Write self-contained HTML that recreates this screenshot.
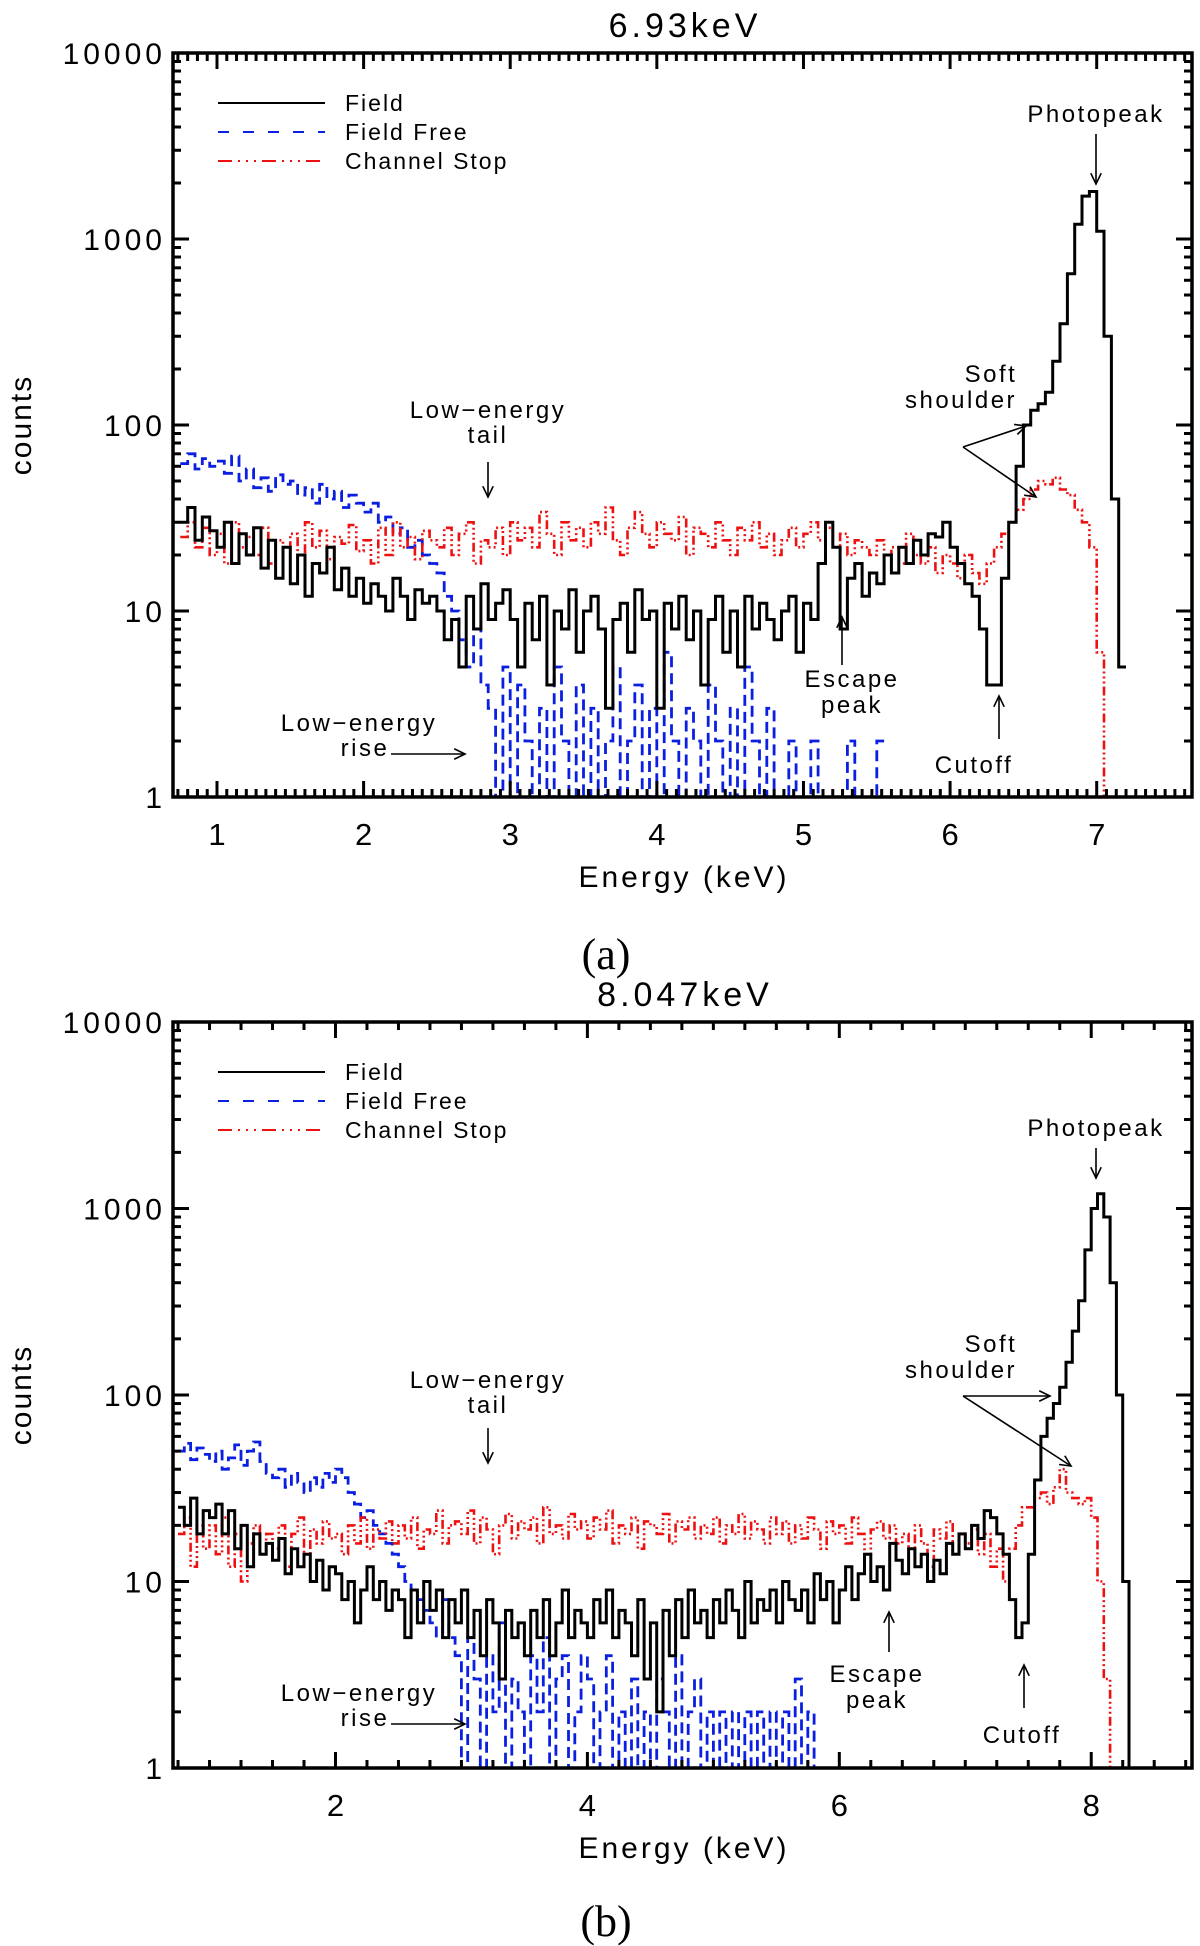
<!DOCTYPE html>
<html><head><meta charset="utf-8"><style>
html,body{margin:0;padding:0;background:#fff;}
svg{display:block;font-family:"Liberation Sans",sans-serif;}
</style></head><body>
<svg id="fig" width="1200" height="1946" viewBox="0 0 1200 1946" xmlns="http://www.w3.org/2000/svg"></svg>
<script>
// ---- Panel (a) data, 6.93 keV ----  bins start at 0.75 keV, width 0.05 keV
const binStartA = 0.75;
const binWidth = 0.05;
const fieldA = [30,36,24,32,27,
22,30,18,26,20,28,17,24,15,22,
14,20,12,18,16,22,13,17,12,15,
11,14,12,10,15,12,9,13,11,12,
10,7,9,5,12,8,14,9,11,13,
9,5,11,7,12,4,10,8,13,6,
10,12,8,3,9,11,6,13,9,10,
3,11,8,12,7,10,4,9,12,6,
10,5,12,8,11,9,7,10,12,6,
11,9,18,30,22,8,15,18,12,16,
14,20,16,22,18,24,20,26,25,30,
22,18,14,12,8,4,4,15,30,60,
100,120,130,150,220,350,650,1200,1700,1800,
1100,300,40,5];
const fieldFreeA = [62,70,58,66,60,
64,55,68,50,58,46,52,44,54,48,
50,42,46,38,48,40,44,36,42,38,
34,38,30,32,26,28,22,24,20,18,
16,12,10,7,5,8,4,3,0,5,
0,4,2,0,3,0,5,2,0,4,
0,3,0,2,5,0,2,4,0,3,
0,6,2,0,3,2,0,4,2,0,
3,0,5,2,0,3,0,0,2,0,
0,2,0,0,0,0,2,0,0,0,
2];
const channelStopA = [25,30,22,28,20,
26,18,30,22,25,20,28,18,24,22,
26,20,30,22,27,19,25,23,29,21,
24,18,28,20,30,22,25,19,27,24,
22,28,20,26,30,18,24,22,28,20,
30,24,28,22,34,26,20,30,24,28,
22,30,26,36,24,20,28,34,26,22,
30,26,24,32,20,28,26,22,30,24,
20,28,24,30,22,26,20,24,28,22,
26,30,24,28,22,26,20,24,22,20,
24,20,22,18,26,20,18,22,16,20,
18,15,20,16,14,18,22,26,30,35,
40,45,50,48,52,45,42,35,30,22,
6,1];
const xTicksA = [1,2,3,4,5,6,7];
// ---- Panel (b) data, 8.047 keV ----
const binStartB = 0.75;
const fieldB = [25,20,28,18,24,
22,26,18,24,15,20,12,18,14,16,
13,17,11,15,12,14,10,13,9,12,
11,8,10,6,9,12,8,10,7,9,
8,5,9,6,10,7,9,5,8,6,
9,5,7,4,8,6,3,7,5,6,
4,7,5,8,4,6,9,5,7,6,
5,8,6,9,5,7,6,4,8,3,
6,2,7,4,8,5,9,6,7,5,
8,6,9,7,5,10,6,8,7,9,
6,10,8,7,9,6,11,8,10,6,
9,12,8,11,14,10,12,9,16,13,
11,15,12,14,10,13,11,16,14,18,
15,20,17,24,22,18,14,8,5,6,
14,35,60,75,90,110,150,220,320,600,
1000,1200,900,400,100,10,1];
const fieldFreeB = [50,55,45,52,48,
44,50,40,46,54,42,50,56,44,38,
36,40,32,38,34,30,36,32,38,34,
40,36,30,26,22,24,20,18,16,14,
12,10,9,8,7,6,5,8,5,4,
0,5,3,0,4,2,6,0,3,2,
0,4,2,5,0,3,4,0,2,4,
3,0,2,4,0,2,0,3,0,2,
0,3,2,0,4,0,2,3,0,2,
0,2,0,2,0,2,0,2,0,2,
0,2,0,3,0,2,0,0,0,0];
const channelStopB = [18,22,12,20,15,
20,14,22,12,18,10,16,20,14,18,
15,20,12,18,22,14,19,16,21,17,
18,14,20,16,22,15,19,17,21,16,
20,17,22,15,19,18,24,16,20,21,
18,24,16,22,19,14,20,23,17,21,
19,22,16,25,18,20,17,23,19,21,
17,22,19,24,16,20,18,22,15,21,
20,18,23,16,21,19,22,17,20,18,
22,16,20,18,23,17,21,19,16,22,
18,21,16,20,17,22,19,15,21,18,
20,16,22,18,14,19,21,17,20,16,
18,15,20,16,12,19,17,21,14,18,
16,19,14,18,12,15,10,15,20,25,
25,28,30,26,32,40,30,28,26,28,
22,10,3,1];
const xTicksB = [2,4,6,8];
const yTickLabels = ["1","10","100","1000","10000"];

const NS="http://www.w3.org/2000/svg";
const svg=document.getElementById('fig');
function mk(tag,attrs,parent){const e=document.createElementNS(NS,tag);for(const k in attrs)e.setAttribute(k,attrs[k]);(parent||svg).appendChild(e);return e;}
function txt(s,x,y,size,anchor,parent,fam,ls){const t=mk('text',{x:x,y:y,'font-size':size,'text-anchor':anchor||'middle',fill:'#000'},parent);if(fam)t.setAttribute('font-family',fam);if(ls)t.setAttribute('letter-spacing',ls);t.textContent=s;return t;}

function panel(cfg){
  const g=mk('g',{});
  
  
  const L=173,R=1192,T=cfg.top,B=cfg.bottom;
  const sx=v=>L+(v-cfg.xmin)/(cfg.xmax-cfg.xmin)*(R-L);
  const sy=v=>{const c=Math.max(v,1);return B-Math.log10(c)/4*(B-T);};
  function series(vals,start,color,dash,width,name){
    let d='M'+sx(start).toFixed(1)+','+sy(vals[0]).toFixed(1);
    for(let i=0;i<vals.length;i++){
      const xa=start+i*binWidth,xb=xa+binWidth;
      d+=' L'+sx(xa).toFixed(1)+','+sy(vals[i]).toFixed(1)+' L'+sx(xb).toFixed(1)+','+sy(vals[i]).toFixed(1);
    }
    const p=mk('path',{d:d,fill:'none',stroke:color,'stroke-width':width,'stroke-dasharray':dash||'none','stroke-linejoin':'miter'},g);
    
    
  }
  series(cfg.ff,cfg.start,'#0a1fe0','11,6',2.8,'field-free-series');
  series(cfg.cs,cfg.start,'#ee1111','9,3,2,3,2,3,2,3',2.6,'channel-stop-series');
  series(cfg.f,cfg.start,'#000','none',3,'field-series');
  const fr=mk('rect',{x:L,y:T,width:R-L,height:B-T,fill:'none',stroke:'#000','stroke-width':3.5},g);
  
  
  for(let dcd=0;dcd<4;dcd++){
    for(let m=1;m<10;m++){
      const v=m*Math.pow(10,dcd);const y=sy(v);const len=m===1?16:8;
      mk('line',{x1:L,y1:y,x2:L+len,y2:y,stroke:'#000','stroke-width':3},g);
      mk('line',{x1:R,y1:y,x2:R-len,y2:y,stroke:'#000','stroke-width':3},g);
    }
  }
  yTickLabels.forEach((s,i)=>{const t=txt(s,166,sy(Math.pow(10,i))+11,30,'end',g,null,'4');
    });
  for(let v=Math.ceil(cfg.xmin/cfg.minor)*cfg.minor;v<=cfg.xmax;v+=cfg.minor){
    const isMaj=Math.abs(v/cfg.major-Math.round(v/cfg.major))<1e-6;const x=sx(v);const len=isMaj?16:8;
    mk('line',{x1:x,y1:B,x2:x,y2:B-len,stroke:'#000','stroke-width':3},g);
    mk('line',{x1:x,y1:T,x2:x,y2:T+len,stroke:'#000','stroke-width':3},g);
  }
  cfg.ticks.forEach(v=>{const t=txt(String(v),sx(v),B+48,31,'middle',g);
    });
  let t;
  t=txt('Energy (keV)',684,B+90,30,'middle',g,null,'3');
  t=txt('counts',0,0,30,'middle',g,null,'2');t.setAttribute('transform','translate(31,'+((T+B)/2)+') rotate(-90)');
  
  t=txt(cfg.title,685,T-16,34,'middle',g,null,'4');
  const lg=mk('g',{},g);
  const ents=[['Field','#000','none'],['Field Free','#0a1fe0','11,14'],['Channel Stop','#ee1111','14,6,2,6,2,6,2,6']];
  ents.forEach((e,i)=>{const y=T+50+i*29;
    mk('line',{x1:218,y1:y,x2:325,y2:y,stroke:e[1],'stroke-width':2,'stroke-dasharray':e[2]},lg);
    const tt=txt(e[0],345,y+8,23,'start',lg,null,'2');});
  const an=mk('g',{},g);
  function arrow(x1,y1,x2,y2){
    mk('line',{x1:x1,y1:y1,x2:x2,y2:y2,stroke:'#000','stroke-width':1.6},an);
    const a=Math.atan2(y2-y1,x2-x1),h=12,w=0.45;
    mk('path',{d:'M'+(x2-h*Math.cos(a-w))+','+(y2-h*Math.sin(a-w))+' L'+x2+','+y2+' L'+(x2-h*Math.cos(a+w))+','+(y2-h*Math.sin(a+w)),fill:'none',stroke:'#000','stroke-width':1.6},an);
  }
  cfg.labels.forEach(l=>{const tt=txt(l[0],l[1],l[2],24,'middle',an,null,'2.5');});
  cfg.arrows.forEach(a=>arrow(a[0],a[1],a[2],a[3]));
  t=txt(cfg.cap,606,cfg.capY,44,'middle',g,'"Liberation Serif",serif');
  
}

panel({name:'panel-a-chart',top:53,bottom:797,xmin:0.70,xmax:7.65,minor:1/15,major:1,ticks:xTicksA,
  f:fieldA,ff:fieldFreeA,cs:channelStopA,start:binStartA,title:'6.93keV',cap:'(a)',capY:969,
  labels:[['Photopeak',1096,122],['Soft',991,382],['shoulder',961,408],['Low\u2212energy',488,418],['tail',488,443],
          ['Escape',852,687],['peak',852,713],['Cutoff',974,773],['Low\u2212energy',359,731],['rise',365,756]],
  arrows:[[1096,134,1096,184],[963,447,1026,426],[963,447,1036,497],[488,462,488,497],[842,665,842,617],[999,739,999,696],[391,754,465,754]]});
panel({name:'panel-b-chart',top:1022,bottom:1768,xmin:0.71,xmax:8.8,minor:0.25,major:2,ticks:xTicksB,
  f:fieldB,ff:fieldFreeB,cs:channelStopB,start:binStartB,title:'8.047keV',cap:'(b)',capY:1936,
  labels:[['Photopeak',1096,1136],['Soft',991,1352],['shoulder',961,1378],['Low\u2212energy',488,1388],['tail',488,1413],
          ['Escape',877,1682],['peak',877,1708],['Cutoff',1022,1743],['Low\u2212energy',359,1701],['rise',365,1726]],
  arrows:[[1096,1148,1096,1178],[963,1396,1050,1396],[963,1396,1071,1466],[488,1428,488,1463],[889,1652,889,1612],[1024,1708,1024,1665],[391,1724,465,1724]]});
</script>
</body></html>
